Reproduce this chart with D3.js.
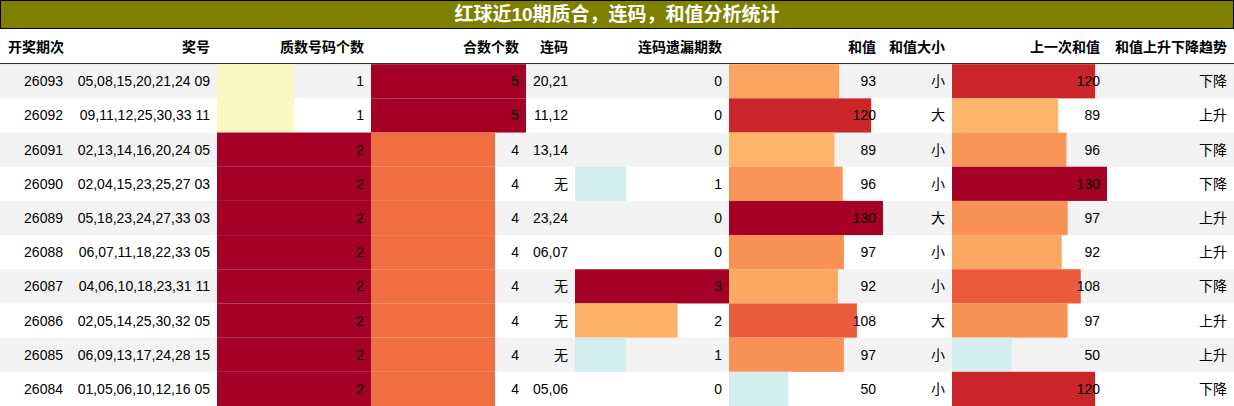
<!DOCTYPE html><html><head><meta charset="utf-8">
<script src="https://cdn.jsdelivr.net/npm/d3@7"></script>
<style>body{margin:0;background:#fff}</style></head><body><svg id="c" width="1234" height="406"></svg>
<script>
const title="红球近10期质合，连码，和值分析统计";
const headers=["开奖期次","奖号","质数号码个数","合数个数","连码","连码遗漏期数","和值","和值大小","上一次和值","和值上升下降趋势"];
const periods=["26093","26092","26091","26090","26089","26088","26087","26086","26085","26084"];
const numbers=["05,08,15,20,21,24 09","09,11,12,25,30,33 11","02,13,14,16,20,24 05","02,04,15,23,25,27 03","05,18,23,24,27,33 03","06,07,11,18,22,33 05","04,06,10,18,23,31 11","02,05,14,25,30,32 05","06,09,13,17,24,28 15","01,05,06,10,12,16 05"];
const primeCount=[1,1,2,2,2,2,2,2,2,2];
const compCount=[5,5,4,4,4,4,4,4,4,4];
const consec=["20,21","11,12","13,14","无","23,24","06,07","无","无","无","05,06"];
const missed=[0,0,0,1,0,0,3,2,1,0];
const sums=[93,120,89,96,130,97,92,108,97,50];
const sizes=["小","大","小","小","大","小","小","大","小","小"];
const prevSums=[120,89,96,130,97,92,108,97,50,120];
const trends=["下降","上升","下降","下降","上升","上升","下降","上升","上升","下降"];

const edges=[0,70,217,371,526,575,729,883,952,1107,1234];
const svg=d3.select("#c");
const F="'Liberation Sans','Noto Sans CJK SC',sans-serif";
svg.append("rect").attr("x",0.5).attr("y",0.5).attr("width",1233).attr("height",28).attr("fill","#808000").attr("stroke","#000");
svg.append("text").attr("x",617).attr("y",21).attr("text-anchor","middle").attr("fill","#fff").attr("font-weight","bold").attr("font-size",19).attr("font-family",F).text(title);
const y=d3.scaleBand().domain(d3.range(11)).range([30,406]).padding(0);
headers.forEach((h,i)=>{svg.append("text").attr("x",i==0?8:edges[i+1]-7).attr("y",y(0)+y.bandwidth()/2+5).attr("text-anchor",i==0?"start":"end").attr("font-weight","bold").attr("font-size",14).attr("font-family",F).text(h);});
svg.append("line").attr("x1",0).attr("x2",1234).attr("y1",y(1)-0.5).attr("y2",y(1)-0.5).attr("stroke","#000");
const rows=d3.range(10);
rows.forEach(r=>{if(r%2==0)svg.append("rect").attr("x",0).attr("y",y(r+1)).attr("width",1234).attr("height",y.bandwidth()).attr("fill","#f3f3f3");});
function colorFn(lo,hi,tlo){return v=>d3.interpolateRdYlBu(tlo-(v-lo)/(hi-lo)*tlo);}
function barCol(ci,vals,max,col){const x=d3.scaleLinear().domain([0,max]).range([edges[ci],edges[ci+1]]);
 rows.forEach(r=>{if(vals[r]>0)svg.append("rect").attr("x",edges[ci]).attr("y",y(r+1)).attr("width",x(vals[r])-edges[ci]).attr("height",y.bandwidth()).attr("fill",col(vals[r]));});}
barCol(2,primeCount,2,colorFn(1,2,0.5));
barCol(3,compCount,5,colorFn(4,5,0.2));
barCol(5,missed,3,colorFn(1,3,0.62));
barCol(6,sums,130,colorFn(50,130,0.62));
barCol(8,prevSums,130,colorFn(50,130,0.62));
const cols=[periods,numbers,primeCount,compCount,consec,missed,sums,sizes,prevSums,trends];
cols.forEach((c,i)=>rows.forEach(r=>{svg.append("text").attr("x",edges[i+1]-7).attr("y",y(r+1)+y.bandwidth()/2+5).attr("text-anchor","end").attr("font-size",14).attr("font-family",F).attr("fill","#000").text(c[r]);}));
</script></body></html>
